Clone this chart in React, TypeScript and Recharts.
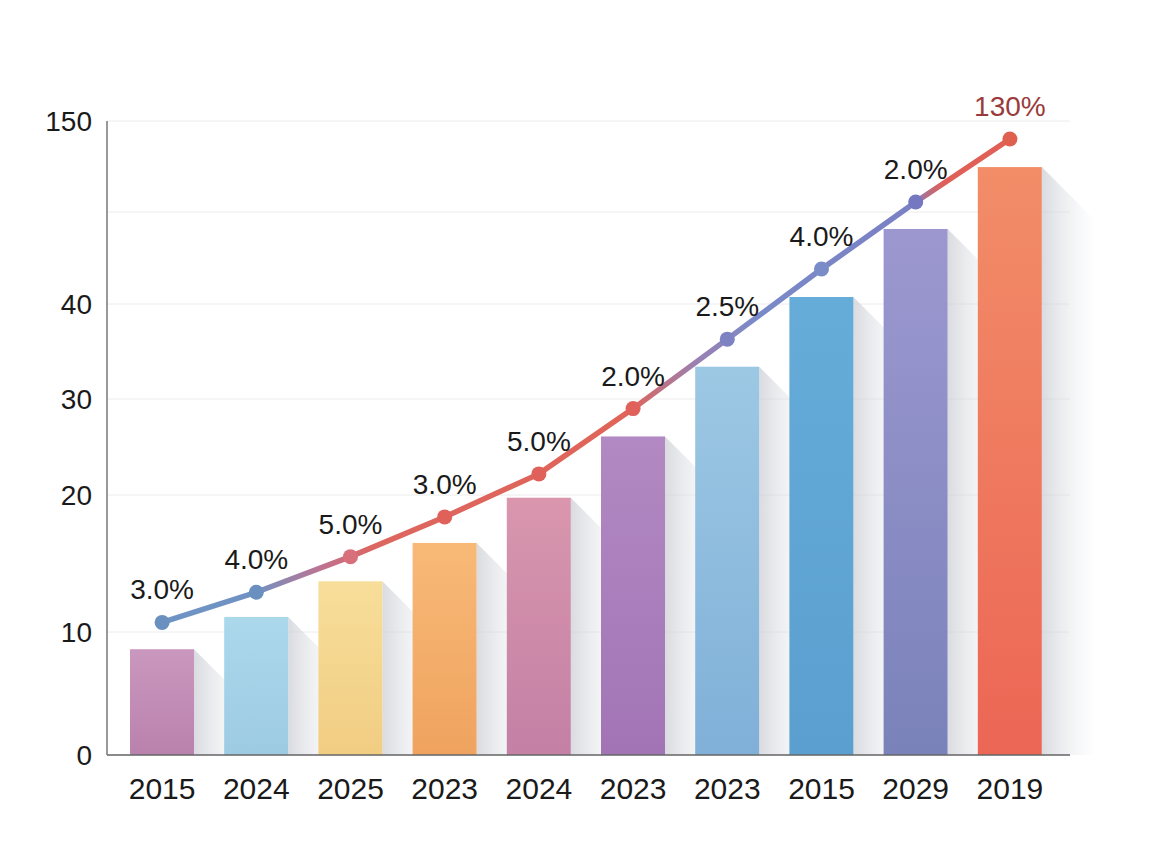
import { ComposedChart, Bar, Line, XAxis, YAxis, CartesianGrid, Cell, LabelList } from 'recharts';

// categories and values (values in axis units)
const years = ['2015', '2024', '2025', '2023', '2024', '2023', '2023', '2015', '2029', '2019'];
const barValues = [8.6, 11.1, 13.7, 16.5, 19.8, 26.1, 33.4, 44.2, 85.1, 122.3];
const lineValues = [10.7, 12.9, 15.5, 18.4, 22.2, 29.0, 36.3, 61.0, 101.3, 139.2];
const growthLabels = ['3.0%', '4.0%', '5.0%', '3.0%', '5.0%', '2.0%', '2.5%', '4.0%', '2.0%', '130%'];

// the y axis is uneven: each labelled value sits at its own height
const tickLabels = [0, 10, 20, 30, 40, 150];
const tickPositions = [0, 123, 260, 356, 451, 634];
const blankGridPos = 543;

const barTop = ['#ca97be', '#acd8ec', '#f7de9a', '#f8b977', '#d996ad', '#b289c2', '#9dc8e4', '#66acd9', '#9c98cf', '#f28d68'];
const barBottom = ['#b982ad', '#9dcbe2', '#f1cd82', '#efa35f', '#c480a5', '#a274b6', '#80b0d8', '#5a9fcf', '#7a82ba', '#ec6655'];
const dotColors = ['#6a90c0', '#6a90c0', '#d8707c', '#e0615a', '#e0615a', '#e0615a', '#7c82c2', '#7a8cc8', '#7378c0', '#e0604f'];

// piecewise map from axis value to the axis' drawing units
const toPos = (v: number) => {
  for (let i = 1; i < tickLabels.length; i++) {
    if (v <= tickLabels[i]) {
      const t = (v - tickLabels[i - 1]) / (tickLabels[i] - tickLabels[i - 1]);
      return tickPositions[i - 1] + t * (tickPositions[i] - tickPositions[i - 1]);
    }
  }
  return tickPositions[tickPositions.length - 1];
};

const data = years.map((year, i) => ({
  key: i,
  year,
  bar: toPos(barValues[i]),
  line: toPos(lineValues[i]),
  growth: growthLabels[i],
}));

const font = 'Liberation Sans, Arial, sans-serif';

const BarWithShadow = (props: any) => {
  const { x, y, width, height, index } = props;
  const s = 55;
  const bottom = y + height;
  return (
    <g>
      <polygon
        points={`${x + width},${y} ${x + width + s},${y + s} ${x + width + s},${bottom} ${x + width},${bottom}`}
        fill="url(#shadowGrad)"
      />
      <rect x={x} y={y} width={width} height={height} fill={`url(#barGrad${index})`} />
    </g>
  );
};

const renderDot = (props: any) => {
  const { cx, cy, index } = props;
  return <circle key={`dot-${index}`} cx={cx} cy={cy} r={7.5} fill={dotColors[index]} />;
};

const renderLabel = (props: any) => {
  const { x, y, value, index } = props;
  const last = index === years.length - 1;
  return (
    <text
      x={x}
      y={y - 23}
      textAnchor="middle"
      fontSize={28}
      fontFamily={font}
      fill={last ? '#9a3b3b' : '#1a1a1a'}
    >
      {value}
    </text>
  );
};

export default function App() {
  return (
    <div style={{ position: 'absolute', left: 0, top: 0, width: 1152, height: 864, background: '#fff' }}>
      <ComposedChart width={1152} height={864} data={data} margin={{ top: 121, right: 82, bottom: 49, left: 0 }}>
        <defs>
          {barTop.map((c, i) => (
            <linearGradient key={i} id={`barGrad${i}`} x1="0" y1="0" x2="0" y2="1">
              <stop offset="0%" stopColor={c} />
              <stop offset="100%" stopColor={barBottom[i]} />
            </linearGradient>
          ))}
          <linearGradient id="shadowGrad" x1="0" y1="0" x2="1" y2="0">
            <stop offset="0%" stopColor="#c9ccd3" stopOpacity={0.7} />
            <stop offset="100%" stopColor="#e6e8ec" stopOpacity={0} />
          </linearGradient>
          <linearGradient id="lineGrad" x1="0" y1="0" x2="1" y2="0">
            <stop offset="0%" stopColor="#6e94c4" />
            <stop offset="11%" stopColor="#7092c2" />
            <stop offset="19%" stopColor="#c07290" />
            <stop offset="25%" stopColor="#dc6660" />
            <stop offset="55%" stopColor="#e06458" />
            <stop offset="63%" stopColor="#9a80b2" />
            <stop offset="70%" stopColor="#7a8ac8" />
            <stop offset="88%" stopColor="#7a80c4" />
            <stop offset="92%" stopColor="#e06058" />
            <stop offset="100%" stopColor="#e06058" />
          </linearGradient>
        </defs>
        <CartesianGrid vertical={false} stroke="#ececec" />
        <XAxis
          dataKey="key"
          tickFormatter={(i: number) => years[i]}
          height={60}
          padding={{ left: 8, right: 13 }}
          stroke="#666"
          strokeWidth={1.5}
          tickLine={false}
          tickSize={0}
          tickMargin={23}
          interval={0}
          tick={{ fill: '#1a1a1a', fontSize: 30, fontFamily: font }}
        />
        <YAxis
          type="number"
          domain={[0, tickPositions[tickPositions.length - 1]]}
          ticks={[...tickPositions.slice(0, 5), blankGridPos, tickPositions[5]]}
          tickFormatter={(p: number) => {
            const i = tickPositions.indexOf(p);
            return i >= 0 ? String(tickLabels[i]) : '';
          }}
          interval={0}
          width={107}
          stroke="#777"
          strokeWidth={1.5}
          tickLine={false}
          tickSize={0}
          tickMargin={15}
          tick={{ fill: '#1a1a1a', fontSize: 28, fontFamily: font }}
        />
        <Bar dataKey="bar" barSize={64} shape={<BarWithShadow />} isAnimationActive={false}>
          {data.map((d, i) => (
            <Cell key={d.key} fill={barTop[i]} />
          ))}
        </Bar>
        <Line
          type="linear"
          dataKey="line"
          stroke="url(#lineGrad)"
          strokeWidth={5.5}
          dot={renderDot}
          activeDot={false}
          isAnimationActive={false}
        >
          <LabelList dataKey="growth" content={renderLabel} />
        </Line>
      </ComposedChart>
    </div>
  );
}
